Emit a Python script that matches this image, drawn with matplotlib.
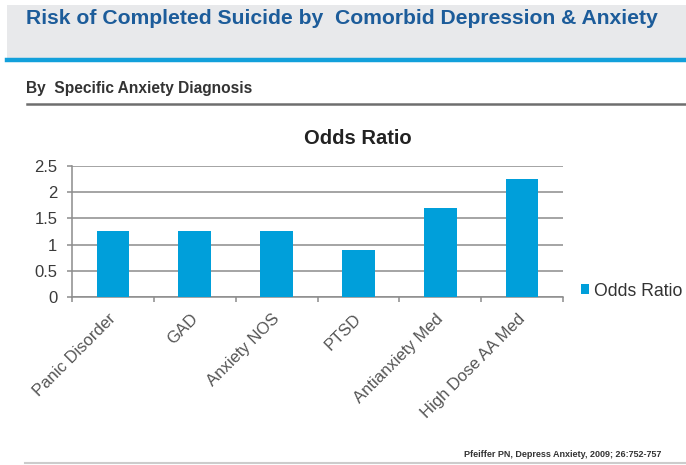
import matplotlib
matplotlib.use("Agg")
from matplotlib import pyplot as plt
from matplotlib.patches import Rectangle
from matplotlib.lines import Line2D
from matplotlib.transforms import ScaledTranslation

categories = ["Panic Disorder", "GAD", "Anxiety NOS", "PTSD", "Antianxiety Med", "High Dose AA Med"]
odds_ratio = [1.26, 1.26, 1.26, 0.89, 1.70, 2.25]
y_ticks = [0, 0.5, 1, 1.5, 2, 2.5]
y_tick_labels = ["0", "0.5", "1", "1.5", "2", "2.5"]
series_name = "Odds Ratio"

W, H = 686, 465
bar_blue = "#009FDA"
grid_grey = "#8C8C8C"

fig = plt.figure(figsize=(W / 100, H / 100), dpi=100)
fig.patch.set_facecolor("white")
renderer = fig.canvas.get_renderer()


def px(x, y):
    # pixel coords (top-left origin) -> figure fraction
    return x / W, 1 - y / H


def fit_width(t, width):
    # shrink / grow the font so the text spans `width` pixels
    w = t.get_window_extent(renderer).width
    t.set_fontsize(t.get_fontsize() * width / w)


# header band
fig.patches.append(Rectangle(px(7, 58), 1, 53 / H, transform=fig.transFigure,
                             facecolor="#E8E9EB", edgecolor="none", zorder=0))
fig.lines.append(Line2D([7 / W, 1], [1 - 60.5 / H] * 2, transform=fig.transFigure,
                        color="#12A0DB", lw=3.2))
title = fig.text(*px(26, 18), "Risk of Completed Suicide by  Comorbid Depression & Anxiety",
                 family="Liberation Sans", fontsize=14, fontweight="bold", color="#1C5C9A",
                 va="center", ha="left")
fit_width(title, 632)

# sub heading
sub = fig.text(*px(26, 88.5), "By  Specific Anxiety Diagnosis", family="Liberation Sans",
               fontsize=10, fontweight="bold", color="#333333", va="center", ha="left")
fit_width(sub, 227)
fig.lines.append(Line2D([27 / W, 1], [1 - 104 / H] * 2, transform=fig.transFigure,
                        color="#6E6E6E", lw=1.8))

# chart
ax = fig.add_axes([72 / W, (H - 297) / H, (563 - 72) / W, (297 - 166) / H])
x = list(range(len(categories)))
ax.bar(x, odds_ratio, width=0.4, color=bar_blue, zorder=3, label=series_name)
ax.set_xlim(-0.5, len(categories) - 0.5)
ax.set_ylim(0, 2.5)
ax.set_yticks(y_ticks)
ax.set_yticklabels(y_tick_labels, fontsize=12, color="#3A3A3A", family="Liberation Sans")
ax.set_xticks(x)
ax.set_xticklabels(categories, rotation=45, ha="right", va="top", rotation_mode="anchor",
                   fontsize=12, color="#555555", family="Liberation Sans")
ax.tick_params(axis="x", length=0, pad=0)
shift = ScaledTranslation(-5 / 100, -14 / 100, fig.dpi_scale_trans)
for lab in ax.get_xticklabels():
    lab.set_transform(lab.get_transform() + shift)
ax.set_xticks([i - 0.5 for i in range(len(categories) + 1)], minor=True)
ax.tick_params(axis="x", which="minor", length=3.6, color=grid_grey, width=1.1)
ax.tick_params(axis="y", length=3.6, color=grid_grey, width=1.1, pad=7)
ax.grid(axis="y", color=grid_grey, lw=1.1, zorder=0)
for s in ["top", "right"]:
    ax.spines[s].set_visible(False)
for s in ["left", "bottom"]:
    ax.spines[s].set_color(grid_grey)
    ax.spines[s].set_linewidth(1.1)

fig.text(*px(358, 138.5), series_name, fontsize=14.5, fontweight="bold", color="#222222",
         family="Liberation Sans", ha="center", va="center")

leg = ax.legend(loc="center left", bbox_to_anchor=px(581, 291),
                bbox_transform=fig.transFigure, frameon=False, handlelength=0.45,
                handleheight=0.45, handletextpad=0.3, borderaxespad=0, borderpad=0,
                prop={"family": "Liberation Sans", "size": 12.7})
for t in leg.get_texts():
    t.set_color("#333333")

# citation
cite = fig.text(*px(661, 454.5), "Pfeiffer PN, Depress Anxiety, 2009; 26:752-757", fontsize=6,
                fontweight="bold", color="#333333", ha="right", va="center",
                family="Liberation Sans")
fit_width(cite, 199)
fig.lines.append(Line2D([25 / W, 1], [1 - 463 / H] * 2, transform=fig.transFigure,
                        color="#CCCCCC", lw=1.5))

fig.savefig("out.png", dpi=100)
